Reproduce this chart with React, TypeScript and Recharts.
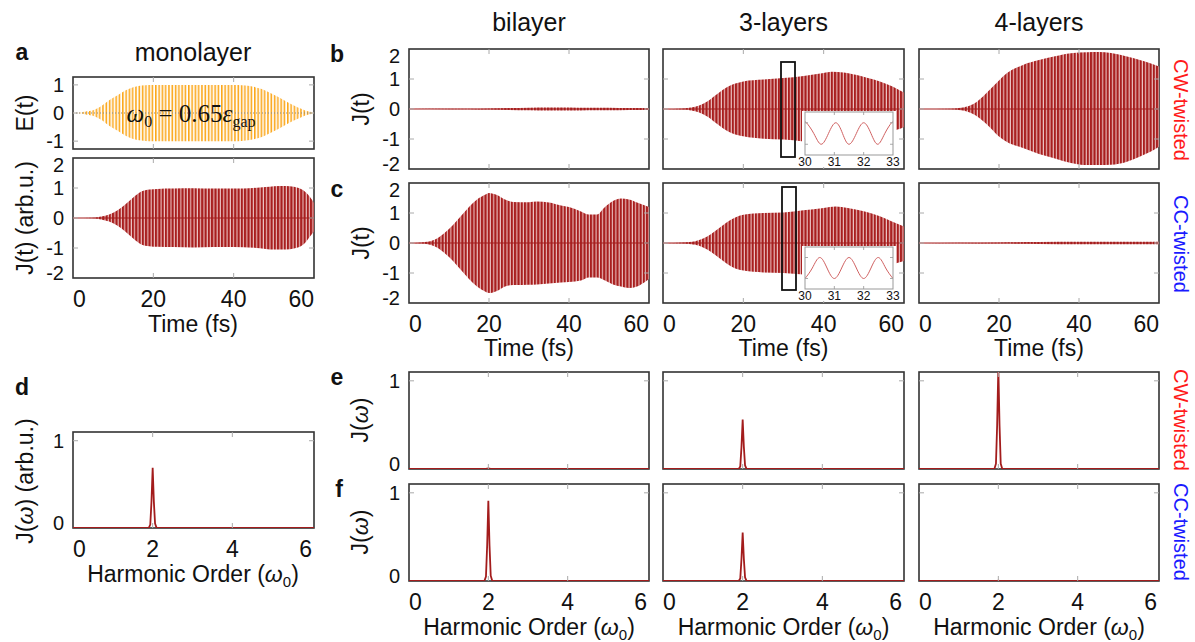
import React from 'react';
import { ComposedChart, Area, Line, XAxis, YAxis, ReferenceLine } from 'recharts';

const SANS = '"Liberation Sans", Arial, sans-serif';
const SERIF = '"Liberation Serif", "DejaVu Serif", serif';
const RED = '#a31c1c';

// E(t) envelope, monolayer
const T_E = [0, 2, 3, 5, 7, 9, 11, 13, 15, 17, 19, 25, 30, 35, 41, 43, 45, 47, 49, 51, 53, 55, 57, 58, 60];
const E_HI = [0.01, 0.02, 0.05, 0.1, 0.24, 0.45, 0.62, 0.8, 0.92, 0.98, 1.0, 1.0, 1.0, 1.0, 1.0, 0.98, 0.93, 0.85, 0.72, 0.58, 0.42, 0.27, 0.14, 0.08, 0.02];
const E_LO = [-0.01, -0.02, -0.05, -0.1, -0.24, -0.45, -0.62, -0.8, -0.92, -0.98, -1.0, -1.0, -1.0, -1.0, -1.0, -0.98, -0.93, -0.85, -0.72, -0.58, -0.42, -0.27, -0.14, -0.08, -0.02];

// J(t) envelopes
const T_MONO = [0, 5, 7, 9, 11, 13, 15, 17, 19, 21, 25, 30, 35, 40, 45, 48, 50, 53, 55, 57, 58, 59, 60];
const MONO_HI = [0, 0.01, 0.05, 0.12, 0.25, 0.45, 0.68, 0.88, 0.95, 0.97, 0.98, 0.99, 0.98, 0.98, 1.0, 1.03, 1.06, 1.07, 1.04, 0.95, 0.85, 0.7, 0.5];
const MONO_LO = [0, -0.01, -0.05, -0.12, -0.25, -0.45, -0.68, -0.88, -0.94, -0.96, -0.97, -0.98, -0.97, -0.97, -0.99, -1.03, -1.05, -1.05, -1.02, -0.92, -0.8, -0.62, -0.45];

// CW-twisted
const T_B1 = [0, 10, 15, 20, 25, 30, 35, 40, 45, 50, 55, 60];
const B1_HI = [0, 0.005, 0.01, 0.02, 0.03, 0.04, 0.05, 0.05, 0.04, 0.04, 0.03, 0.03];
const B1_LO = [0, -0.005, -0.01, -0.02, -0.03, -0.04, -0.05, -0.05, -0.04, -0.04, -0.03, -0.03];

const T_B2 = [0, 5, 7, 9, 11, 13, 15, 17, 19, 20, 25, 30, 35, 40, 42, 45, 48, 51, 54, 57, 59, 60];
const B2_HI = [0, 0.02, 0.05, 0.12, 0.25, 0.45, 0.65, 0.8, 0.88, 0.92, 0.98, 1.03, 1.1, 1.2, 1.24, 1.22, 1.14, 1.03, 0.92, 0.76, 0.62, 0.55];
const B2_LO = [0, -0.02, -0.05, -0.12, -0.25, -0.45, -0.65, -0.8, -0.88, -0.91, -0.99, -1.02, -1.08, -1.17, -1.2, -1.18, -1.1, -1.0, -0.88, -0.74, -0.66, -0.6];

const T_B3 = [0, 8, 10, 12, 14, 16, 18, 20, 22, 26, 30, 34, 38, 42, 45, 48, 52, 55, 58, 60];
const B3_HI = [0, 0.01, 0.03, 0.08, 0.2, 0.42, 0.68, 0.95, 1.2, 1.47, 1.63, 1.76, 1.86, 1.89, 1.9, 1.87, 1.75, 1.64, 1.52, 1.42];
const B3_LO = [0, -0.01, -0.03, -0.08, -0.2, -0.4, -0.65, -0.92, -1.1, -1.3, -1.5, -1.65, -1.8, -1.87, -1.87, -1.86, -1.76, -1.6, -1.42, -1.26];

// CC-twisted
const T_C1 = [0, 3, 5, 7, 9, 11, 13, 15, 17, 19, 20, 22, 24, 26, 30, 32, 35, 38, 40, 43, 45, 47, 49, 51, 53, 55, 57, 59, 60];
const C1_HI = [0, 0.02, 0.05, 0.15, 0.35, 0.6, 0.9, 1.2, 1.45, 1.61, 1.67, 1.6, 1.45, 1.37, 1.36, 1.38, 1.35, 1.25, 1.2, 1.05, 0.95, 0.95, 1.2, 1.4, 1.48, 1.45, 1.35, 1.25, 1.2];
const C1_LO = [0, -0.02, -0.05, -0.15, -0.35, -0.6, -0.9, -1.2, -1.45, -1.62, -1.67, -1.6, -1.45, -1.4, -1.39, -1.38, -1.35, -1.32, -1.3, -1.25, -1.15, -1.15, -1.25, -1.38, -1.45, -1.5, -1.45, -1.3, -1.2];

const T_C2 = [0, 5, 8, 10, 12, 14, 16, 18, 20, 25, 30, 35, 40, 43, 46, 50, 54, 57, 60];
const C2_HI = [0, 0.02, 0.06, 0.15, 0.3, 0.5, 0.7, 0.85, 0.94, 1.0, 1.02, 1.09, 1.17, 1.22, 1.17, 1.06, 0.89, 0.72, 0.55];
const C2_LO = [0, -0.02, -0.06, -0.15, -0.3, -0.5, -0.7, -0.85, -0.92, -0.98, -1.0, -1.05, -1.12, -1.15, -1.1, -1.0, -0.85, -0.72, -0.6];

const T_C3 = [0, 10, 20, 30, 40, 50, 60];
const C3_HI = [0, 0.01, 0.02, 0.03, 0.04, 0.04, 0.04];
const C3_LO = [0, -0.01, -0.02, -0.03, -0.04, -0.04, -0.04];

// zoomed insets, 30-33 fs
const IN_T_B = [30, 30.05, 30.3, 30.55, 30.8, 31.05, 31.28, 31.5, 31.75, 32.0, 32.25, 32.48, 32.72, 32.95, 33];
const IN_J_B = [0.98, 1.0, 0, -1, 0, 1, 0, -1, 0, 1, 0, -1, 0, 1, 0.99];
const IN_T_C = [30, 30.25, 30.5, 30.75, 31, 31.25, 31.5, 31.75, 32, 32.25, 32.5, 32.75, 33];
const IN_J_C = [-1, 0, 1, 0, -1, 0, 1, 0, -1, 0, 1, 0, -1];

// spectra J(w) around the 2nd harmonic
const W_X = [0, 1.9, 1.94, 1.97, 2.0, 2.03, 2.06, 2.1, 6.05];
const D_MONO = [0, 0, 0.04, 0.3, 0.69, 0.3, 0.05, 0, 0];
const E_BI = [0, 0, 0, 0.003, 0.006, 0.003, 0, 0, 0];
const E_TRI = [0, 0, 0.03, 0.25, 0.56, 0.25, 0.04, 0, 0];
const E_QUAD = [0, 0, 0.06, 0.5, 1.15, 0.5, 0.06, 0, 0];
const F_BI = [0, 0, 0.05, 0.4, 0.91, 0.4, 0.06, 0, 0];
const F_TRI = [0, 0, 0.03, 0.25, 0.55, 0.25, 0.04, 0, 0];
const F_QUAD = [0, 0, 0, 0.002, 0.004, 0.002, 0, 0, 0];

const T_TICKS = [0, 20, 40, 60];
const J_TICKS = [-2, -1, 0, 1, 2];
const E_TICKS = [-1, 0, 1];
const W_TICKS = [0, 2, 4, 6];
const S_TICKS = [0, 1];
const IN_TICKS = [30, 31, 32, 33];
const IN_Y_TICKS = [-1, 1];

const band = (t: number[], lo: number[], hi: number[]) => t.map((v, i) => ({ t: v, band: [lo[i], hi[i]] }));
const spec = (y: number[]) => W_X.map((w, i) => ({ w, j: y[i] }));
const wave = (t: number[], j: number[]) => t.map((v, i) => ({ t: v, j: j[i] }));

interface Box { x: number; y: number; w: number; h: number }

const PL = 50, PR = 12, PT = 12, PB = 34;

interface PanelProps {
  box: Box;
  data: any[];
  xKey: string;
  xDomain: [number, number];
  xTicks: number[];
  yDomain: [number, number];
  yTicks: number[];
  xLabels?: boolean;
  yLabels?: boolean;
  small?: boolean;
  children?: React.ReactNode;
}

const Panel: React.FC<PanelProps> = ({ box, data, xKey, xDomain, xTicks, yDomain, yTicks, xLabels, yLabels, small, children }) => {
  const fs = small ? 12 : 23;
  const len = small ? 3 : 5;
  const xr = xDomain[1] - xDomain[0];
  const yr = yDomain[1] - yDomain[0];

  const xTick = (p: any) => {
    const v = p.payload.value;
    const inner = v > xDomain[0] + 0.02 * xr && v < xDomain[1] - 0.02 * xr;
    let anchor: 'start' | 'middle' | 'end' = 'middle';
    if (!small && v === xTicks[0]) anchor = 'start';
    if (!small && v === xTicks[xTicks.length - 1]) anchor = 'end';
    return (
      <g>
        {inner && <line x1={p.x} x2={p.x} y1={PT} y2={PT + len} stroke="#aaa" />}
        {inner && <line x1={p.x} x2={p.x} y1={PT + box.h - len} y2={PT + box.h} stroke="#aaa" />}
        {xLabels && (
          <text x={p.x} y={PT + box.h + (small ? 11 : 29)} textAnchor={anchor} fontSize={fs} fontFamily={SANS} fill="#111">
            {v}
          </text>
        )}
      </g>
    );
  };

  // outer tick labels are pulled inside the frame, like the original figure
  const yTick = (p: any) => {
    const v = p.payload.value;
    const inner = v > yDomain[0] + 0.02 * yr && v < yDomain[1] - 0.02 * yr;
    const cy = Math.max(PT + 7, Math.min(PT + box.h - 5, p.y));
    return (
      <g>
        {inner && <line x1={PL} x2={PL + len} y1={p.y} y2={p.y} stroke="#aaa" />}
        {inner && <line x1={PL + box.w - len} x2={PL + box.w} y1={p.y} y2={p.y} stroke="#aaa" />}
        {yLabels && (
          <text x={PL - 9} y={cy} dy="0.36em" textAnchor="end" fontSize={20} fontFamily={SANS} fill="#111">
            {v}
          </text>
        )}
      </g>
    );
  };

  return (
    <div style={{ position: 'absolute', left: box.x - PL, top: box.y - PT }}>
      <ComposedChart
        width={box.w + PL + PR}
        height={box.h + PT + PB}
        data={data}
        margin={{ top: PT, right: PR, bottom: 0, left: 0 }}
      >
        <XAxis dataKey={xKey} type="number" domain={xDomain} ticks={xTicks} interval={0} tick={xTick}
          tickLine={false} axisLine={false} height={PB} allowDataOverflow />
        <YAxis type="number" domain={yDomain} ticks={yTicks} interval={0} tick={yTick}
          tickLine={false} axisLine={false} width={PL} allowDataOverflow />
        {children}
      </ComposedChart>
    </div>
  );
};

// plot boxes (page pixels)
const A_E: Box = { x: 73, y: 77, w: 241, h: 72 };
const A_J: Box = { x: 73, y: 158, w: 241, h: 120 };
const COL_X = [409, 663, 919];
const COL_W = [240, 241, 240];
const ROW_B = 49, ROW_C = 183, TH = 120;
const D_BOX: Box = { x: 73, y: 432, w: 241, h: 96 };
const ROW_E = 372, ROW_F = 484, SH = 97;
const IN_B: Box = { x: 805, y: 112, w: 88, h: 43 };
const IN_C: Box = { x: 805, y: 247, w: 88, h: 42 };

const jArea = (
  <Area dataKey="band" type="monotone" stroke="none" fill="url(#jStripe)" fillOpacity={1} isAnimationActive={false} />
);
const zeroLine = <ReferenceLine y={0} stroke={RED} strokeWidth={1} />;
const specLine = (
  <Line dataKey="j" type="linear" stroke={RED} strokeWidth={1.8} dot={false} isAnimationActive={false} />
);

const TimePanel: React.FC<{ box: Box; data: any[]; xLabels?: boolean; yLabels?: boolean }> = ({ box, data, xLabels, yLabels }) => (
  <Panel box={box} data={data} xKey="t" xDomain={[0, 60]} xTicks={T_TICKS} yDomain={[-2, 2]} yTicks={J_TICKS}
    xLabels={xLabels} yLabels={yLabels}>
    {zeroLine}
    {jArea}
  </Panel>
);

const SpecPanel: React.FC<{ box: Box; values: number[]; xLabels?: boolean; yLabels?: boolean }> = ({ box, values, xLabels, yLabels }) => (
  <Panel box={box} data={spec(values)} xKey="w" xDomain={[0, 6.05]} xTicks={W_TICKS} yDomain={[0, 1.1]} yTicks={S_TICKS}
    xLabels={xLabels} yLabels={yLabels}>
    {specLine}
  </Panel>
);

const InsetPanel: React.FC<{ box: Box; data: any[] }> = ({ box, data }) => (
  <>
    <div style={{ position: 'absolute', left: box.x - 3, top: box.y - 1, width: box.w + 6, height: box.h + 13, background: '#fff' }} />
    <Panel box={box} data={data} xKey="t" xDomain={[30, 33]} xTicks={IN_TICKS} yDomain={[-2, 2]} yTicks={IN_Y_TICKS} xLabels small>
      <Line dataKey="j" type="natural" stroke="#d06060" strokeWidth={1} dot={false} isAnimationActive={false} />
    </Panel>
  </>
);

const RotText: React.FC<{ x: number; y: number; angle: number; size: number; fill?: string; children: React.ReactNode }> = ({ x, y, angle, size, fill, children }) => (
  <text transform={`translate(${x},${y}) rotate(${angle})`} textAnchor="middle" dy="0.35em" fontSize={size} fontFamily={SANS} fill={fill || '#111'}>
    {children}
  </text>
);

const Omega0: React.FC = () => (
  <>
    <tspan fontStyle="italic">ω</tspan>
    <tspan fontSize={15} dy={5}>0</tspan>
    <tspan dy={-5}>)</tspan>
  </>
);

const App: React.FC = () => {
  const tBoxes = (y: number) => COL_X.map((x, i) => ({ x, y, w: COL_W[i], h: TH }));
  const sBoxes = (y: number) => COL_X.map((x, i) => ({ x, y, w: COL_W[i], h: SH }));
  const bB = tBoxes(ROW_B), cB = tBoxes(ROW_C), eB = sBoxes(ROW_E), fB = sBoxes(ROW_F);
  const frames: Box[] = [A_E, A_J, D_BOX, ...bB, ...cB, ...eB, ...fB];
  const colCenter = COL_X.map((x, i) => x + COL_W[i] / 2);

  return (
    <div style={{ position: 'absolute', left: 0, top: 0, width: 1195, height: 642, background: '#fff', overflow: 'hidden' }}>
      <svg width={0} height={0} style={{ position: 'absolute' }}>
        <defs>
          <pattern id="jStripe" width={3.3} height={10} patternUnits="userSpaceOnUse">
            <rect width={3.3} height={10} fill="#ecc4c4" />
            <rect width={2.2} height={10} fill="#a81e1e" />
          </pattern>
          <pattern id="eStripe" width={6.6} height={10} patternUnits="userSpaceOnUse">
            <rect x={0} width={1.6} height={10} fill="#fba71b" />
            <rect x={3.3} width={1.6} height={10} fill="#fba71b" />
          </pattern>
        </defs>
      </svg>

      {/* frames underneath the data */}
      <svg width={1195} height={642} style={{ position: 'absolute', left: 0, top: 0 }}>
        {frames.map((b, i) => (
          <rect key={i} x={b.x} y={b.y} width={b.w} height={b.h} fill="none" stroke="#333" strokeWidth={1.6} />
        ))}
      </svg>

      {/* a: monolayer */}
      <Panel box={A_E} data={band(T_E, E_LO, E_HI)} xKey="t" xDomain={[0, 60]} xTicks={T_TICKS}
        yDomain={[-1.28, 1.28]} yTicks={E_TICKS} yLabels>
        <Area dataKey="band" type="monotone" stroke="none" fill="url(#eStripe)" fillOpacity={1} isAnimationActive={false} />
        <ReferenceLine y={0} stroke="#888" strokeDasharray="1 2" />
      </Panel>
      <TimePanel box={A_J} data={band(T_MONO, MONO_LO, MONO_HI)} xLabels yLabels />

      {/* b: CW-twisted */}
      <TimePanel box={bB[0]} data={band(T_B1, B1_LO, B1_HI)} yLabels />
      <TimePanel box={bB[1]} data={band(T_B2, B2_LO, B2_HI)} />
      <TimePanel box={bB[2]} data={band(T_B3, B3_LO, B3_HI)} />

      {/* c: CC-twisted */}
      <TimePanel box={cB[0]} data={band(T_C1, C1_LO, C1_HI)} xLabels yLabels />
      <TimePanel box={cB[1]} data={band(T_C2, C2_LO, C2_HI)} xLabels />
      <TimePanel box={cB[2]} data={band(T_C3, C3_LO, C3_HI)} xLabels />

      <InsetPanel box={IN_B} data={wave(IN_T_B, IN_J_B)} />
      <InsetPanel box={IN_C} data={wave(IN_T_C, IN_J_C)} />

      {/* d, e, f: spectra */}
      <SpecPanel box={D_BOX} values={D_MONO} xLabels yLabels />
      <SpecPanel box={eB[0]} values={E_BI} yLabels />
      <SpecPanel box={eB[1]} values={E_TRI} />
      <SpecPanel box={eB[2]} values={E_QUAD} />
      <SpecPanel box={fB[0]} values={F_BI} xLabels yLabels />
      <SpecPanel box={fB[1]} values={F_TRI} xLabels />
      <SpecPanel box={fB[2]} values={F_QUAD} xLabels />

      {/* text, inset frames and zoom markers */}
      <svg width={1195} height={642} style={{ position: 'absolute', left: 0, top: 0, pointerEvents: 'none' }}>
        <rect x={IN_B.x} y={IN_B.y} width={IN_B.w} height={IN_B.h} fill="none" stroke="#999" strokeWidth={1} />
        <rect x={IN_C.x} y={IN_C.y} width={IN_C.w} height={IN_C.h} fill="none" stroke="#999" strokeWidth={1} />
        <rect x={781} y={62} width={14} height={95} fill="none" stroke="#111" strokeWidth={1.8} />
        <rect x={782} y={187} width={14} height={103} fill="none" stroke="#111" strokeWidth={1.8} />

        <g fontFamily={SANS} fontWeight="bold" fontSize={23} fill="#111" textAnchor="middle">
          <text x={22} y={60}>a</text>
          <text x={337} y={62}>b</text>
          <text x={337} y={197}>c</text>
          <text x={22} y={395}>d</text>
          <text x={337} y={385}>e</text>
          <text x={339} y={497}>f</text>
        </g>

        <g fontFamily={SANS} fontSize={25} fill="#111" textAnchor="middle">
          <text x={193} y={61}>monolayer</text>
          <text x={colCenter[0]} y={31}>bilayer</text>
          <text x={colCenter[1]} y={31}>3-layers</text>
          <text x={colCenter[2]} y={31}>4-layers</text>
        </g>

        <text x={191} y={122} textAnchor="middle" fontFamily={SERIF} fontSize={25} fill="#111">
          <tspan fontStyle="italic">ω</tspan>
          <tspan fontSize={16} dy={5}>0</tspan>
          <tspan dy={-5}> = 0.65</tspan>
          <tspan fontStyle="italic">ε</tspan>
          <tspan fontSize={16} dy={5}>gap</tspan>
        </text>

        <g fontFamily={SANS} fontSize={23} fill="#111" textAnchor="middle">
          <text x={193} y={332}>Time (fs)</text>
          {colCenter.map((cx, i) => (
            <text key={'t' + i} x={cx} y={356}>Time (fs)</text>
          ))}
          <text x={193} y={582}>
            Harmonic Order (<Omega0 />
          </text>
          {colCenter.map((cx, i) => (
            <text key={'w' + i} x={cx} y={635}>
              Harmonic Order (<Omega0 />
            </text>
          ))}
        </g>

        <RotText x={25} y={113} angle={-90} size={23}>E(t)</RotText>
        <RotText x={25} y={218} angle={-90} size={23}>J(t) (arb.u.)</RotText>
        <RotText x={361} y={109} angle={-90} size={23}>J(t)</RotText>
        <RotText x={361} y={243} angle={-90} size={23}>J(t)</RotText>
        <RotText x={25} y={481} angle={-90} size={23}>
          J(<tspan fontStyle="italic">ω</tspan>) (arb.u.)
        </RotText>
        <RotText x={360} y={420} angle={-90} size={23}>
          J(<tspan fontStyle="italic">ω</tspan>)
        </RotText>
        <RotText x={360} y={532} angle={-90} size={23}>
          J(<tspan fontStyle="italic">ω</tspan>)
        </RotText>

        <RotText x={1181} y={110} angle={90} size={20} fill="#ff1a1a">CW-twisted</RotText>
        <RotText x={1181} y={244} angle={90} size={20} fill="#1a1aff">CC-twisted</RotText>
        <RotText x={1181} y={420} angle={90} size={20} fill="#ff1a1a">CW-twisted</RotText>
        <RotText x={1181} y={532} angle={90} size={20} fill="#1a1aff">CC-twisted</RotText>
      </svg>
    </div>
  );
};

export default App;
